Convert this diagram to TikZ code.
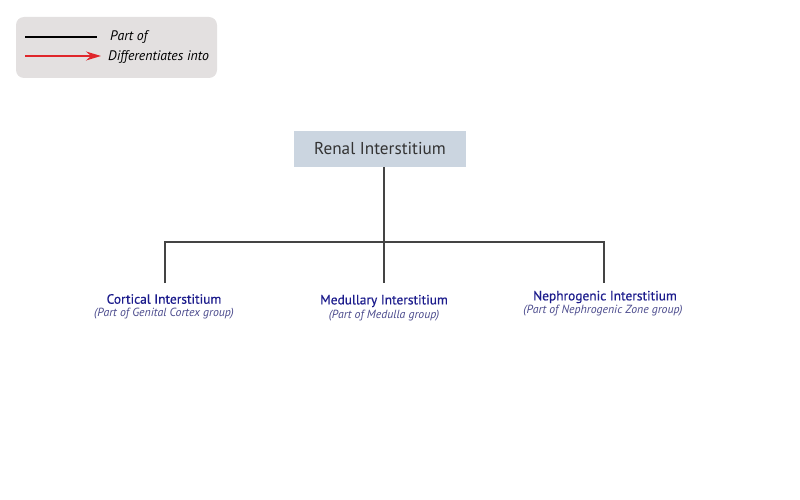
\documentclass[tikz,border=0pt]{standalone}
\usepackage{fontspec}
\setmainfont{PT Sans}
\newfontfamily\titlefont[FakeBold=0.5]{PT Sans}
\usetikzlibrary{arrows.meta}
\definecolor{legendbg}{HTML}{E3E0E0}
\definecolor{rootbg}{HTML}{CBD5E0}
\definecolor{rootfg}{HTML}{333333}
\definecolor{linec}{HTML}{444444}
\definecolor{titlec}{HTML}{1C1C8C}
\definecolor{subc}{HTML}{4A4A8C}
\definecolor{arrowred}{HTML}{E0262B}
\tikzset{
  rootbox/.style={fill=rootbg, text=rootfg, minimum width=172pt, minimum height=36pt, inner sep=0pt, font=\fontsize{17.2}{19}\selectfont},
  childtitle/.style={text=titlec, inner sep=0pt, font=\titlefont\fontsize{13.4}{15}\selectfont},
  childsub/.style={text=subc, inner sep=0pt, font=\fontsize{11.8}{13}\selectfont\itshape},
  legendtext/.style={anchor=west, inner sep=0pt, font=\fontsize{13.8}{15}\selectfont\itshape},
  treeline/.style={draw=linec, line width=2pt},
}
\begin{document}
\begin{tikzpicture}[x=1pt, y=-1pt]
\useasboundingbox (0,0) rectangle (800,500);
% legend
\node[fill=legendbg, rounded corners=8pt, minimum width=201pt, minimum height=61pt, inner sep=0pt] (legend) at (116.5,47.5) {};
\coordinate (l1a) at (25,37);
\coordinate (l1b) at (97,37);
\coordinate (l2a) at (25,56);
\coordinate (l2b) at (101,56);
\draw[black, line width=1.6pt] (l1a) -- (l1b);
\draw[arrowred, line width=1.4pt, -{Stealth[length=15pt, width=9pt, inset=5pt]}] (l2a) -- (l2b);
\node[legendtext] (lt1) at (110,37) {Part of};
\node[legendtext] (lt2) at (108,57) {Differentiates into};
% root
\node[rootbox] (root) at (380,149) {Renal Interstitium};
% children
\node[childtitle] (c1) at (164,299) {Cortical Interstitium};
\node[childsub] (c1s) at (164,314) {(Part of Genital Cortex group)};
\node[childtitle] (c2) at (384,301) {Medullary Interstitium};
\node[childsub] (c2s) at (384,316) {(Part of Medulla group)};
\node[childtitle] (c3) at (605,297) {Nephrogenic Interstitium};
\node[childsub] (c3s) at (603,311) {(Part of Nephrogenic Zone group)};
% connectors
\coordinate (top) at (384,167);
\coordinate (junction) at (384,242);
\coordinate (e1) at (165,283);
\coordinate (e2) at (384,283);
\coordinate (e3) at (604,283);
\draw[treeline] (top) -- (junction);
\draw[treeline] (e1) |- (junction) -| (e3);
\draw[treeline] (junction) -- (e2);
\end{tikzpicture}
\end{document}
